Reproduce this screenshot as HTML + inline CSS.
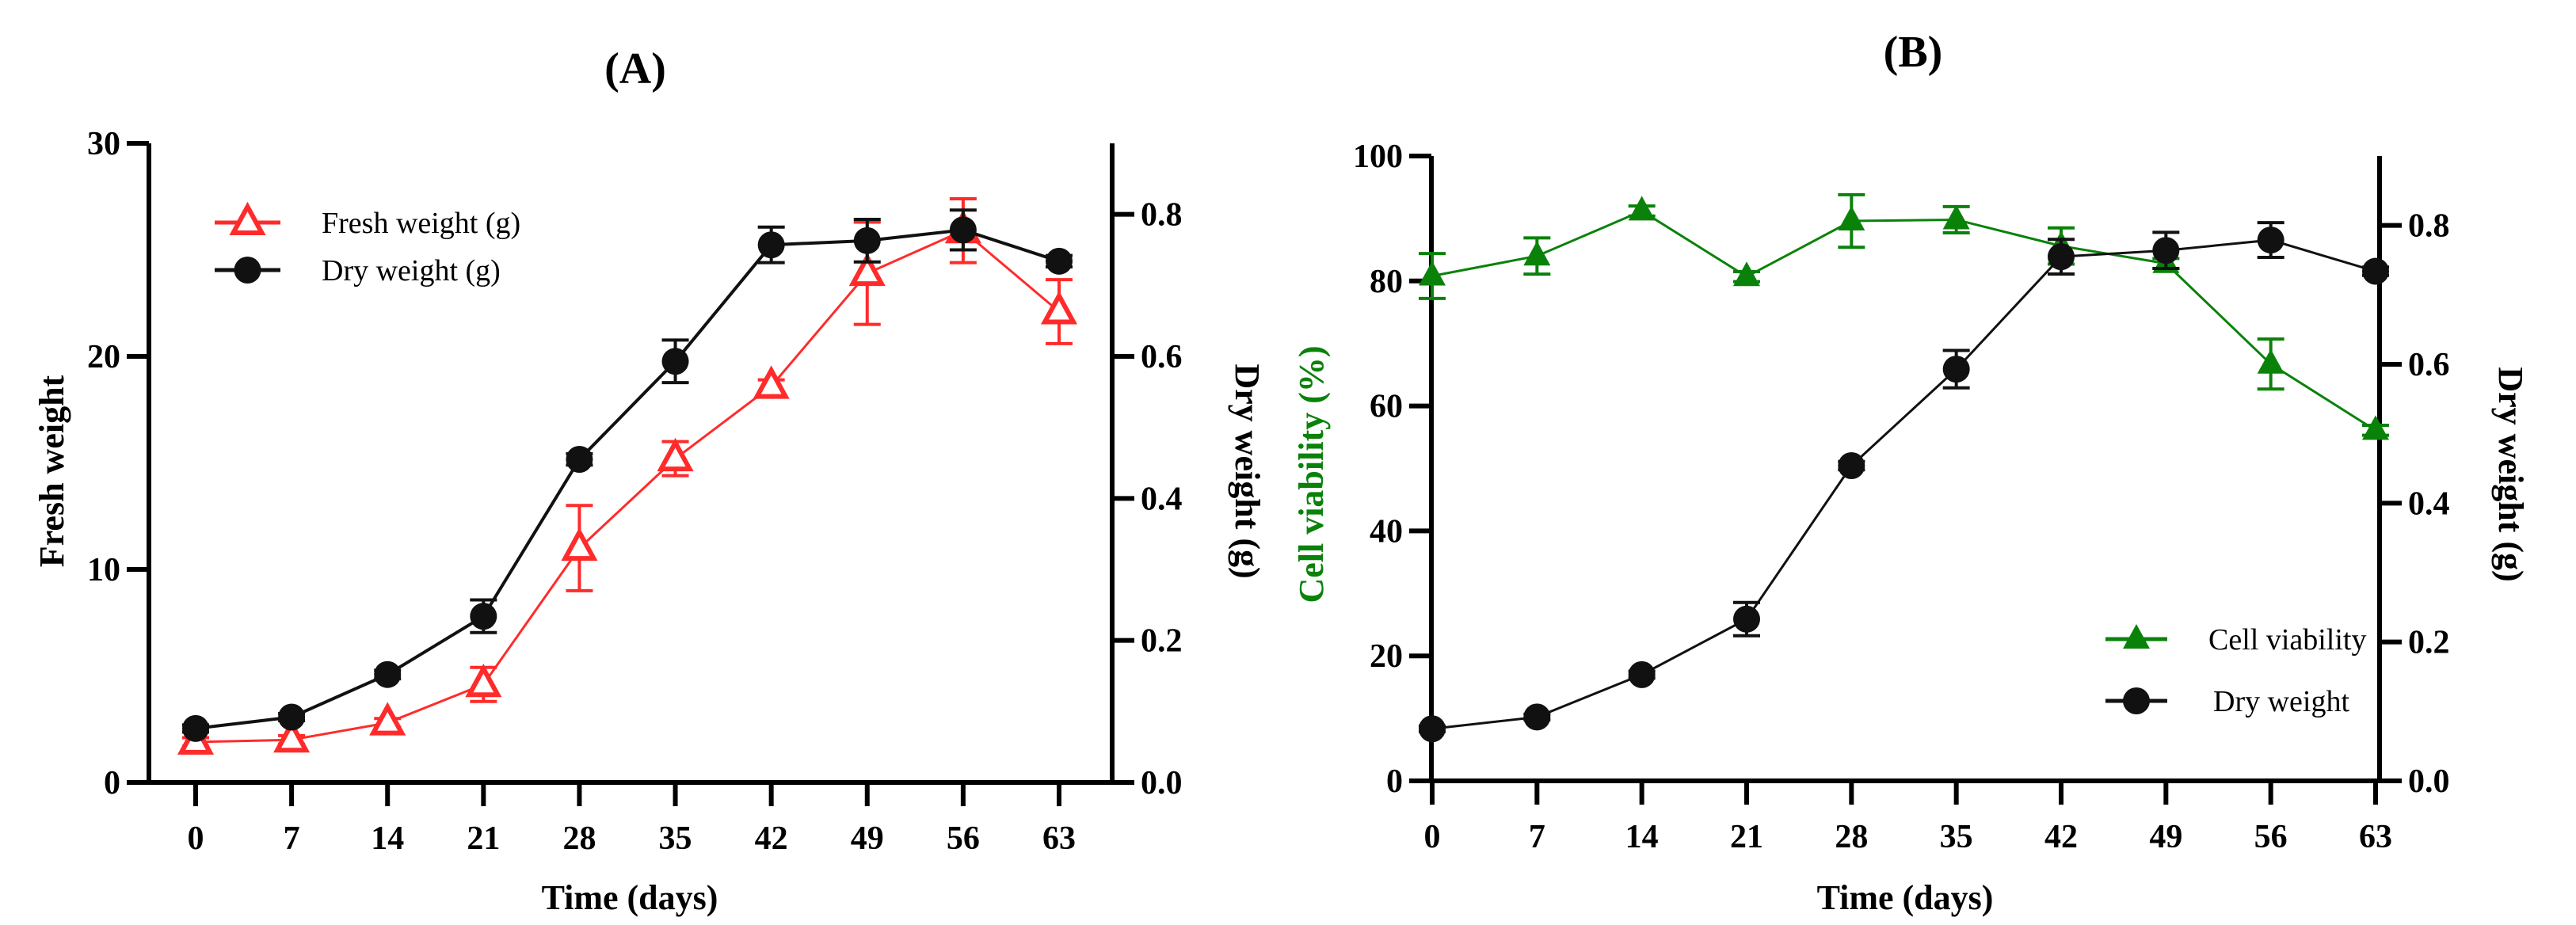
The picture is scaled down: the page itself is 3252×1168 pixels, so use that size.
<!DOCTYPE html>
<html><head><meta charset="utf-8"><style>
html,body{margin:0;padding:0;background:#fff}
svg{display:block}
text{font-family:"Liberation Serif",serif;font-weight:bold}
</style></head><body>
<svg id="fig" width="3252" height="1168" viewBox="0 0 3252 1168" xmlns="http://www.w3.org/2000/svg">
<g id="pa"></g>
<g id="pb"></g>
</svg>
<script>
const days=[0,7,14,21,28,35,42,49,56,63];
const freshA=[1.9,2.0,2.8,4.6,11.0,15.2,18.6,23.9,25.9,22.1];
const freshErrA=[0.2,0.2,0.2,0.8,2.0,0.8,0.3,2.4,1.5,1.5];
const dryA=[0.076,0.092,0.152,0.234,0.455,0.593,0.757,0.763,0.778,0.734];
const dryErrA=[0.005,0.005,0.006,0.023,0.008,0.03,0.025,0.03,0.028,0.008];
const viabB=[80.8,84,91.2,80.7,89.6,89.8,85.6,82.8,66.7,56.1];
const viabErrB=[3.6,2.9,0.8,0.8,4.2,2.1,2.9,0.8,4,0.8];
const dryB=[0.075,0.092,0.153,0.233,0.454,0.593,0.755,0.764,0.779,0.734];
const dryErrB=[0.004,0.004,0.005,0.024,0.006,0.027,0.025,0.026,0.025,0.006];
const leftTicksA=[0,10,20,30];
const leftTicksB=[0,20,40,60,80,100];
const rightTicks=[0.0,0.2,0.4,0.6,0.8];

const NS='http://www.w3.org/2000/svg';
function mk(parent,tag,attrs,txt){const e=document.createElementNS(NS,tag);for(const k in attrs)e.setAttribute(k,attrs[k]);if(txt!==undefined)e.textContent=txt;parent.appendChild(e);return e;}

function panel(g,cfg){
  const X=d=>cfg.x0+(d/63)*(cfg.x63-cfg.x0);
  const YL=v=>cfg.bot-(v/cfg.lmax)*(cfg.bot-cfg.top);
  const YR=v=>cfg.bot-(v/0.9)*(cfg.bot-cfg.rtop);
  let e;
  e=mk(g,'text',{x:cfg.titleX,y:cfg.titleY,'font-size':56,'text-anchor':'middle'},cfg.title);
  
  
  // axes
  e=mk(g,'path',{d:`M${cfg.lx} ${cfg.top}V${cfg.bot}H${cfg.rx}V${cfg.rtop}`,fill:'none',stroke:'#000','stroke-width':6});
  
  
  cfg.lticks.forEach(t=>{
    const y=YL(t);
    e=mk(g,'line',{x1:cfg.lx-28,x2:cfg.lx,y1:y,y2:y,stroke:'#000','stroke-width':6});
    
    
    e=mk(g,'text',{x:cfg.lx-36,y:y+14,'font-size':42,'text-anchor':'end'},String(t));
    
    
  });
  rightTicks.forEach(t=>{
    const y=YR(t);
    e=mk(g,'line',{x1:cfg.rx,x2:cfg.rx+28,y1:y,y2:y,stroke:'#000','stroke-width':6});
    
    
    e=mk(g,'text',{x:cfg.rx+36,y:y+14,'font-size':42},t.toFixed(1));
    
    
  });
  days.forEach(d=>{
    const x=X(d);
    e=mk(g,'line',{x1:x,x2:x,y1:cfg.bot,y2:cfg.bot+30,stroke:'#000','stroke-width':6});
    
    
    e=mk(g,'text',{x:x,y:cfg.bot+84,'font-size':42,'text-anchor':'middle'},String(d));
    
    
  });
  e=mk(g,'text',{x:cfg.xlabX,y:1148,'font-size':44,'text-anchor':'middle'},'Time (days)');
  
  
  e=mk(g,'text',{x:0,y:0,'font-size':44,'text-anchor':'middle',fill:cfg.lcolor,transform:`translate(${cfg.llabX},${cfg.labY}) rotate(-90)`},cfg.llabel);
  
  
  e=mk(g,'text',{x:0,y:0,'font-size':44,'text-anchor':'middle',transform:`translate(${cfg.rlabX},${cfg.labY}) rotate(90)`},'Dry weight (g)');
  
  
  // series
  function series(name,vals,errs,Y,color,marker,lw){
    const sg=mk(g,'g',{});
    
    
    const pts=days.map((d,i)=>X(d)+','+Y(vals[i])).join(' ');
    e=mk(sg,'polyline',{points:pts,fill:'none',stroke:color,'stroke-width':lw});
    
    
    days.forEach((d,i)=>{
      const x=X(d),y1=Y(vals[i]+errs[i]),y2=Y(vals[i]-errs[i]);
      e=mk(sg,'path',{d:`M${x} ${y1}V${y2}M${x-17} ${y1}H${x+17}M${x-17} ${y2}H${x+17}`,stroke:color,'stroke-width':4,fill:'none'});
      
      
      e=drawMarker(sg,marker,x,Y(vals[i]),color);
      
      
    });
  }
  function drawMarker(p,m,x,y,c){
    if(m==='circle') return mk(p,'circle',{cx:x,cy:y,r:17,fill:c});
    if(m==='tri-open') return mk(p,'path',{d:`M${x} ${y-20}L${x+18} ${y+13}H${x-18}Z`,fill:'#fff',stroke:c,'stroke-width':6});
    return mk(p,'path',{d:`M${x} ${y-19}L${x+17} ${y+12}H${x-17}Z`,fill:c});
  }
  cfg.series.forEach(s=>series(s.name,s.vals,s.errs,s.axis==='L'?YL:YR,s.color,s.marker,s.lw));
  // legend
  cfg.legend.forEach(l=>{
    const lg=mk(g,'g',{});
    
    
    mk(lg,'line',{x1:l.x1,x2:l.x2,y1:l.y,y2:l.y,stroke:l.color,'stroke-width':5});
    drawMarker(lg,l.marker,(l.x1+l.x2)/2,l.y,l.color);
    mk(lg,'text',{x:l.tx,y:l.y+13,'font-size':38,'font-weight':'normal',style:'font-weight:normal'},l.text);
  });
}
const RED='#ff2b2b',GREEN='#0a820a';
panel(document.getElementById('pa'),{
  title:'(A)',titleX:802,titleY:105,lx:188,rx:1404,top:181,rtop:181,bot:988,lmax:30,x0:247,x63:1337,
  lticks:leftTicksA,xlabX:795,llabX:80,rlabX:1560,labY:595,llabel:'Fresh weight',lcolor:'#000',
  series:[{name:'fresh-weight',vals:freshA,errs:freshErrA,axis:'L',color:RED,marker:'tri-open',lw:3},
          {name:'dry-weight',vals:dryA,errs:dryErrA,axis:'R',color:'#111',marker:'circle',lw:4}],
  legend:[{x1:271,x2:354,y:281,color:RED,marker:'tri-open',tx:406,text:'Fresh weight (g)'},
          {x1:271,x2:354,y:341,color:'#111',marker:'circle',tx:406,text:'Dry weight (g)'}]
});
panel(document.getElementById('pb'),{
  title:'(B)',titleX:2415,titleY:84,lx:1807,rx:3004,top:197,rtop:197,bot:986,lmax:100,x0:1808,x63:2999,
  lticks:leftTicksB,xlabX:2405,llabX:1670,rlabX:3155,labY:599,llabel:'Cell viability (%)',lcolor:GREEN,
  series:[{name:'cell-viability',vals:viabB,errs:viabErrB,axis:'L',color:GREEN,marker:'tri',lw:3},
          {name:'dry-weight-b',vals:dryB,errs:dryErrB,axis:'R',color:'#111',marker:'circle',lw:3}],
  legend:[{x1:2658,x2:2736,y:807,color:GREEN,marker:'tri',tx:2788,text:'Cell viability'},
          {x1:2658,x2:2736,y:885,color:'#111',marker:'circle',tx:2794,text:'Dry weight'}]
});
</script>
</body></html>
